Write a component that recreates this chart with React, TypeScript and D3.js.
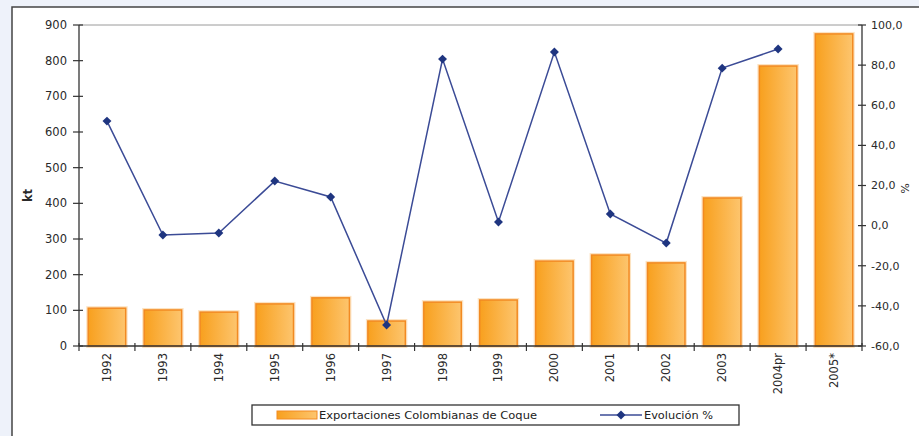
import React from "react";
import * as d3 from "d3";

const categories = ["1992","1993","1994","1995","1996","1997","1998","1999","2000","2001","2002","2003","2004pr","2005*"];
const exportsKt = [106,101,95,118,135,70,123,129,238,255,233,415,785,875];
const evolucion = [52.1,-4.7,-3.7,22.2,14.3,-49.5,83,1.8,86.5,5.8,-8.7,78.5,88];
const leftTicks = [0,100,200,300,400,500,600,700,800,900];
const rightTicks = [-60,-40,-20,0,20,40,60,80,100];

const W = 919, H = 436;
const L = 79, R = 862, T = 25, B = 346;
const FONT = "'DejaVu Sans', sans-serif";

export default function App() {
  const x = d3.scaleBand<string>().domain(categories).range([L, R]).paddingInner(0.33).paddingOuter(0.165);
  const yL = d3.scaleLinear().domain([0, 900]).range([B, T]);
  const yR = d3.scaleLinear().domain([-60, 100]).range([B, T]);
  const bw = x.bandwidth();
  const cx = (c: string) => (x(c) as number) + bw / 2;
  const lineGen = d3.line<number>().x((_, i) => cx(categories[i])).y((d) => yR(d));
  const marker = d3.symbol().type(d3.symbolSquare).size(40)() as string;
  const boundaries = d3.range(categories.length + 1).map((i) => L + i * ((R - L) / categories.length));
  const fmtR = (v: number) => v.toFixed(1).replace(".", ",");

  return (
    <svg width={W} height={H} style={{ position: "absolute", left: 0, top: 0, display: "block" }} fontFamily={FONT}>
      <defs>
        <linearGradient id="barG" x1="0" x2="1" y1="0" y2="0">
          <stop offset="0" stopColor="#F8A01E" />
          <stop offset="1" stopColor="#FDC56E" />
        </linearGradient>
      </defs>
      <rect x={0} y={0} width={W} height={H} fill="#EEF2FA" />
      <rect x={12} y={7} width={W + 10} height={H + 10} fill="#FFFFFF" stroke="#444" strokeWidth={1.5} />

      <line x1={L} x2={R} y1={T} y2={T} stroke="#9A9A9A" strokeWidth={1} />

      {exportsKt.map((v, i) => {
        const c = categories[i];
        return (
          <g key={c}>
            <rect x={x(c) as number} y={yL(v)} width={bw} height={B - yL(v)} fill="none" stroke="#FCE3C2" strokeWidth={4} />
            <rect x={x(c) as number} y={yL(v)} width={bw} height={B - yL(v)} fill="url(#barG)" stroke="#F28A22" strokeWidth={1.5} />
          </g>
        );
      })}

      <line x1={L} x2={L} y1={T} y2={B} stroke="#333" strokeWidth={1.3} />
      {leftTicks.map((t) => (
        <g key={"l" + t}>
          <line x1={L - 6} x2={L + 4} y1={yL(t)} y2={yL(t)} stroke="#333" strokeWidth={1.2} />
          <text x={67} y={yL(t)} dy="0.35em" textAnchor="end" fontSize={11.5} fill="#2a2a2a">{t}</text>
        </g>
      ))}
      <text transform={`translate(32,${(T + B) / 2 + 10}) rotate(-90)`} textAnchor="middle" fontSize={11.5} fontWeight="bold" fill="#2a2a2a">kt</text>

      <line x1={R} x2={R} y1={T} y2={B} stroke="#333" strokeWidth={1.3} />
      {rightTicks.map((t) => (
        <g key={"r" + t}>
          <line x1={R - 4} x2={R + 4} y1={yR(t)} y2={yR(t)} stroke="#333" strokeWidth={1.2} />
          <text x={871} y={yR(t)} dy="0.35em" textAnchor="start" fontSize={11} fill="#2a2a2a">{fmtR(t)}</text>
        </g>
      ))}
      <text transform={`translate(901,${(T + B) / 2 + 3}) rotate(90)`} textAnchor="middle" fontSize={11} fill="#2a2a2a">%</text>

      <line x1={L} x2={R} y1={B} y2={B} stroke="#333" strokeWidth={1.3} />
      {boundaries.map((bx, i) => (
        <line key={"b" + i} x1={bx} x2={bx} y1={B - 3} y2={B + 5} stroke="#333" strokeWidth={1.2} />
      ))}
      {categories.map((c) => (
        <text key={"x" + c} transform={`translate(${cx(c)},${B + 7}) rotate(-90)`} textAnchor="end" dy="0.35em" fontSize={11.5} fill="#2a2a2a">{c}</text>
      ))}

      <path d={lineGen(evolucion) as string} fill="none" stroke="#3B4B96" strokeWidth={1.5} />
      {evolucion.map((v, i) => (
        <path key={"d" + i} d={marker} transform={`translate(${cx(categories[i])},${yR(v)}) rotate(45)`} fill="#1F3580" />
      ))}

      <rect x={252} y={405} width={487} height={20} fill="#FFFFFF" stroke="#333" strokeWidth={1.3} />
      <rect x={277} y={411} width={40} height={8} fill="url(#barG)" stroke="#F28A22" strokeWidth={1} />
      <text x={319} y={415} dy="0.35em" fontSize={11} fill="#222" textLength={218} lengthAdjust="spacingAndGlyphs">Exportaciones Colombianas de Coque</text>
      <line x1={600} x2={642} y1={415} y2={415} stroke="#3B4B96" strokeWidth={1.5} />
      <path d={marker} transform="translate(621,415) rotate(45)" fill="#1F3580" />
      <text x={644} y={415} dy="0.35em" fontSize={11} fill="#222" textLength={69} lengthAdjust="spacingAndGlyphs">Evolución %</text>
    </svg>
  );
}
